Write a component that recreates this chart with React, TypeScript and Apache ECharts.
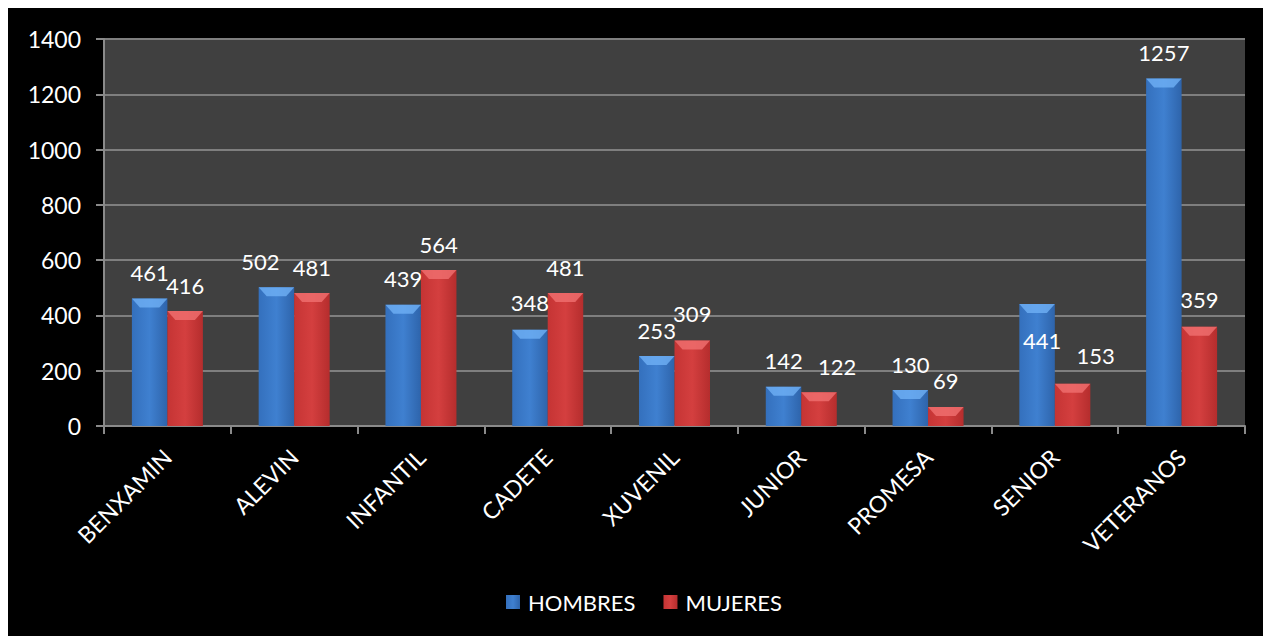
import React, { useEffect, useRef } from "react";
import * as echarts from "echarts";

const categories = ["BENXAMIN", "ALEVIN", "INFANTIL", "CADETE", "XUVENIL", "JUNIOR", "PROMESA", "SENIOR", "VETERANOS"];
const hombres = [461, 502, 439, 348, 253, 142, 130, 441, 1257];
const mujeres = [416, 481, 564, 481, 309, 122, 69, 153, 359];
const yTicks = { min: 0, max: 1400, interval: 200 };

// label nudges (px) per category, as placed in the reference
const hombresLabelOffset: Array<[number, number]> = [[0, 0], [-16, 0], [0, 0], [0, -1], [0, 0], [0, 0], [0, 0], [5, 62], [0, 0]];
const mujeresLabelOffset: Array<[number, number]> = [[0, 0], [0, 0], [0, 0], [0, 0], [0, -1], [18, 0], [0, 0], [23, -2], [0, -1]];

const FONT = "Lato, 'Open Sans', sans-serif";
const GAP = 0.44;

const blueFill = new echarts.graphic.LinearGradient(0, 0, 1, 0, [
  { offset: 0, color: "#3470bd" },
  { offset: 0.5, color: "#3f80d0" },
  { offset: 1, color: "#2e64ab" },
]);
const redFill = new echarts.graphic.LinearGradient(0, 0, 1, 0, [
  { offset: 0, color: "#c53434" },
  { offset: 0.5, color: "#d43f3f" },
  { offset: 1, color: "#b52d2d" },
]);

function bevel(seriesPos: number, color: string) {
  return (params: any, api: any) => {
    const idx = api.value(0);
    const val = api.value(1);
    const top = api.coord([idx, val]);
    const base = api.coord([idx, 0]);
    const band = api.size([1, 0])[0];
    const w = (band * (1 - GAP)) / 2;
    const x0 = top[0] - w + seriesPos * w;
    const x1 = x0 + w;
    const h = Math.min(9, base[1] - top[1]);
    const inset = Math.min(8, w / 3);
    return {
      type: "polygon",
      shape: { points: [[x0, top[1]], [x1, top[1]], [x1 - inset, top[1] + h], [x0 + inset, top[1] + h]] },
      style: { fill: color, opacity: 0.8 },
    };
  };
}

export default function App() {
  const ref = useRef<HTMLDivElement>(null);
  useEffect(() => {
    document.body.style.overflow = "hidden";
    if (!ref.current) return;
    const chart = echarts.init(ref.current, null, { renderer: "svg" });
    const labelBase = {
      show: true,
      position: "top" as const,
      distance: 15,
      color: "#ffffff",
      fontSize: 22,
      fontFamily: FONT,
    };
    chart.setOption({
      animation: false,
      backgroundColor: "#000000",
      textStyle: { fontFamily: FONT },
      grid: {
        left: 96,
        right: 18,
        top: 31,
        bottom: 210,
        show: true,
        backgroundColor: "#404040",
        borderWidth: 0,
      },
      legend: {
        data: ["HOMBRES", "MUJERES"],
        left: 493,
        top: 578,
        itemWidth: 14,
        itemHeight: 14,
        itemGap: 28,
        icon: "rect",
        textStyle: { color: "#ffffff", fontSize: 22, fontFamily: FONT, padding: [0, 0, 0, 3] },
      },
      xAxis: {
        type: "category",
        data: categories,
        axisLine: { show: true, lineStyle: { color: "#8a8a8a", width: 2 } },
        axisTick: { show: true, length: 8, lineStyle: { color: "#8a8a8a", width: 2 } },
        axisLabel: { rotate: 45, color: "#ffffff", fontSize: 23, fontFamily: FONT, margin: 27, interval: 0 },
        splitLine: { show: false },
      },
      yAxis: {
        type: "value",
        min: yTicks.min,
        max: yTicks.max,
        interval: yTicks.interval,
        axisLine: { show: true, lineStyle: { color: "#8a8a8a", width: 2 } },
        axisTick: { show: true, length: 8, lineStyle: { color: "#8a8a8a", width: 2 } },
        axisLabel: { color: "#ffffff", fontSize: 23, fontFamily: FONT, margin: 23, formatter: (v: number) => String(v) },
        splitLine: { show: true, lineStyle: { color: "#7f7f7f", width: 2 } },
      },
      series: [
        {
          name: "HOMBRES",
          type: "bar",
          barGap: "0%",
          barCategoryGap: GAP * 100 + "%",
          itemStyle: { color: blueFill },
          label: labelBase,
          data: hombres.map((v, i) => ({ value: v, label: { offset: hombresLabelOffset[i] } })),
        },
        {
          name: "MUJERES",
          type: "bar",
          barGap: "0%",
          barCategoryGap: GAP * 100 + "%",
          itemStyle: { color: redFill },
          label: labelBase,
          data: mujeres.map((v, i) => ({ value: v, label: { offset: mujeresLabelOffset[i] } })),
        },
        {
          name: "hb",
          type: "custom",
          z: 5,
          silent: true,
          renderItem: bevel(0, "#6fb0f5"),
          data: hombres.map((v, i) => [i, v]),
        },
        {
          name: "mb",
          type: "custom",
          z: 5,
          silent: true,
          renderItem: bevel(1, "#f07070"),
          data: mujeres.map((v, i) => [i, v]),
        },
      ],
    });
    return () => chart.dispose();
  }, []);
  return <div ref={ref} style={{ position: "fixed", left: 8, top: 8, width: 1255, height: 628 }} />;
}
